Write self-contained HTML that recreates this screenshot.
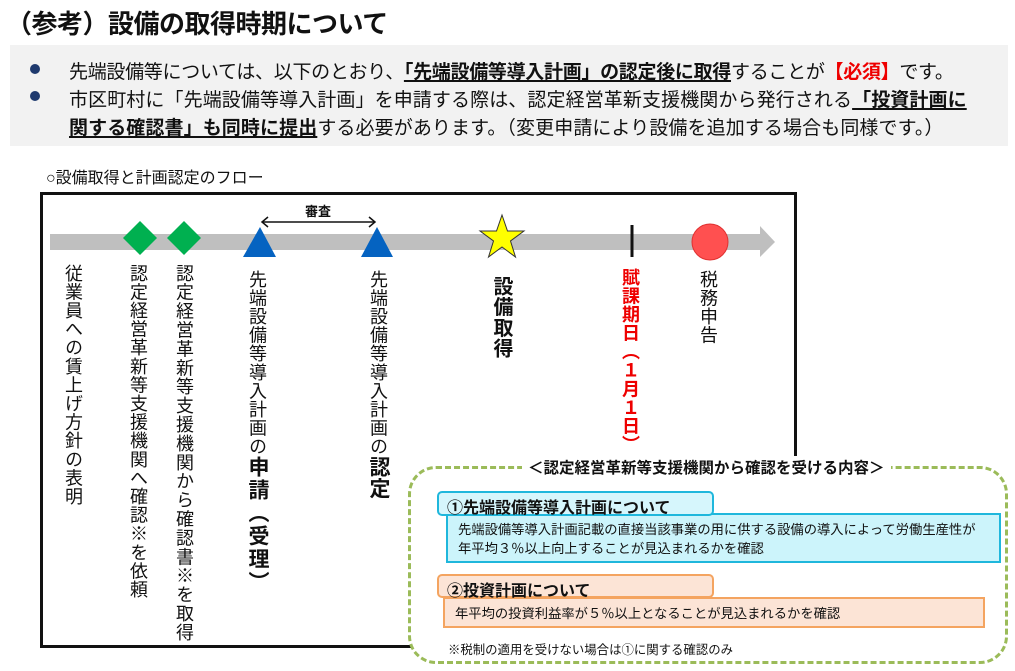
<!DOCTYPE html>
<html><head><meta charset="utf-8"><style>
*{margin:0;padding:0;box-sizing:border-box}
body{width:1015px;height:671px;background:#fff;position:relative;overflow:hidden;font-family:"Liberation Sans","Noto Sans CJK JP",sans-serif;color:#111}
.a{position:absolute;white-space:nowrap}
.v{position:absolute;writing-mode:vertical-rl;font-size:18px;line-height:20px;letter-spacing:0.6px;white-space:nowrap}
.b{font-weight:bold}
u{text-decoration:underline;text-decoration-thickness:2px;text-underline-offset:2px}
</style></head><body>
<div class="a b" style="left:6px;top:4px;font-size:26px;letter-spacing:-0.5px">（参考）設備の取得時期について</div>
<div class="a" style="left:10px;top:45px;width:998px;height:101px;background:#f2f2f2"></div>
<div class="a" style="left:30px;top:64px;width:10px;height:10px;border-radius:50%;background:#1f3a6e"></div>
<div class="a" style="left:30px;top:91px;width:10px;height:10px;border-radius:50%;background:#1f3a6e"></div>
<div class="a" style="left:69px;top:57px;font-size:19px;letter-spacing:-0.3px">先端設備等については、以下のとおり、<u class="b">「先端設備等導入計画」の認定後に取得</u>することが<b style="color:#e00">【必須】</b>です。</div>
<div class="a" style="left:69px;top:85px;font-size:19px;letter-spacing:0.1px">市区町村に「先端設備等導入計画」を申請する際は、認定経営革新支援機関から発行される<u class="b">「投資計画に</u></div>
<div class="a" style="left:69px;top:113px;font-size:19px;letter-spacing:0.1px"><u class="b">関する確認書」も同時に提出</u>する必要があります。（変更申請により設備を追加する場合も同様です。）</div>
<div class="a" style="left:46px;top:164px;font-size:16px;letter-spacing:0px">○設備取得と計画認定のフロー</div>
<div class="a" style="left:40px;top:192px;width:757px;height:456px;border:3px solid #111"></div>
<svg class="a" style="left:0;top:0" width="1015" height="671">
<polygon points="50,234 760,234 760,226 775,242 760,257 760,250 50,250" fill="#bfbfbf"/>
<polygon points="140,221 157,238 140,255 123,238" fill="#00b050"/>
<polygon points="184,221 201,238 184,255 167,238" fill="#00b050"/>
<polygon points="260,227 276,257 243,257" fill="#0563c1"/>
<polygon points="377,227 393,257 361,257" fill="#0563c1"/>
<line x1="262" y1="222" x2="375" y2="222" stroke="#111" stroke-width="1.5"/>
<polyline points="268,217 262,222 268,227" fill="none" stroke="#111" stroke-width="1.5"/>
<polyline points="369,217 375,222 369,227" fill="none" stroke="#111" stroke-width="1.5"/>
<polygon points="502,215 507.5,231 524,231 510.5,241 515.5,257 502,247 488.5,257 493.5,241 480,231 496.5,231" fill="#ff0" stroke="#333" stroke-width="1"/>
<line x1="632" y1="225" x2="632" y2="257" stroke="#111" stroke-width="3"/>
<circle cx="710" cy="242" r="18" fill="#ff5050" stroke="#e03030"/>
</svg>
<div class="a b" style="left:305px;top:201px;font-size:13px">審査</div>
<div class="v" style="left:63px;top:264px">従業員への賃上げ方針の表明</div>
<div class="v" style="left:128px;top:264px">認定経営革新等支援機関へ確認※を依頼</div>
<div class="v" style="left:174px;top:264px;letter-spacing:0.9px">認定経営革新等支援機関から確認書※を取得</div>
<div class="v" style="left:246px;top:270px">先端設備等導入計画の<b style="font-size:21px;line-height:22px;letter-spacing:2px">申請（受理）</b></div>
<div class="v" style="left:367px;top:270px">先端設備等導入計画の<b style="font-size:21px;line-height:22px">認定</b></div>
<div class="v b" style="left:491px;top:276px;font-size:20px">設備取得</div>
<div class="v b" style="left:620px;top:268px;font-size:18px;color:#e00">賦課期日（１月１日）</div>
<div class="v" style="left:698px;top:270px">税務申告</div>
<div class="a" style="left:408px;top:466px;width:600px;height:198px;border:3.5px dashed #9bbb59;border-radius:28px;background:#fff"></div>
<div class="a b" style="left:522px;top:456px;font-size:15.5px;background:#fff;padding:0 6px">＜認定経営革新等支援機関から確認を受ける内容＞</div>
<div class="a" style="left:446px;top:513px;width:555px;height:50px;background:#ccf4fb;border:2px solid #1fb7dc"></div>
<div class="a b" style="left:437px;top:491px;width:277px;height:25px;background:#d6f6fc;border:2px solid #1fb7dc;border-radius:5px;font-size:16px;padding:1px 0 0 8px">①先端設備等導入計画について</div>
<div class="a" style="left:458px;top:520px;font-size:13.3px;line-height:19px">先端設備等導入計画記載の直接当該事業の用に供する設備の導入によって労働生産性が<br>年平均３％以上向上することが見込まれるかを確認</div>
<div class="a" style="left:443px;top:597px;width:542px;height:31px;background:#fce4d6;border:2px solid #f4a460"></div>
<div class="a b" style="left:437px;top:574px;width:277px;height:24px;background:#fce4d6;border:2px solid #f4a460;border-radius:5px;font-size:16px;padding:1px 0 0 8px">②投資計画について</div>
<div class="a" style="left:455px;top:603px;font-size:13.3px">年平均の投資利益率が５％以上となることが見込まれるかを確認</div>
<div class="a" style="left:448px;top:640px;font-size:12.4px">※税制の適用を受けない場合は①に関する確認のみ</div>
</body></html>
